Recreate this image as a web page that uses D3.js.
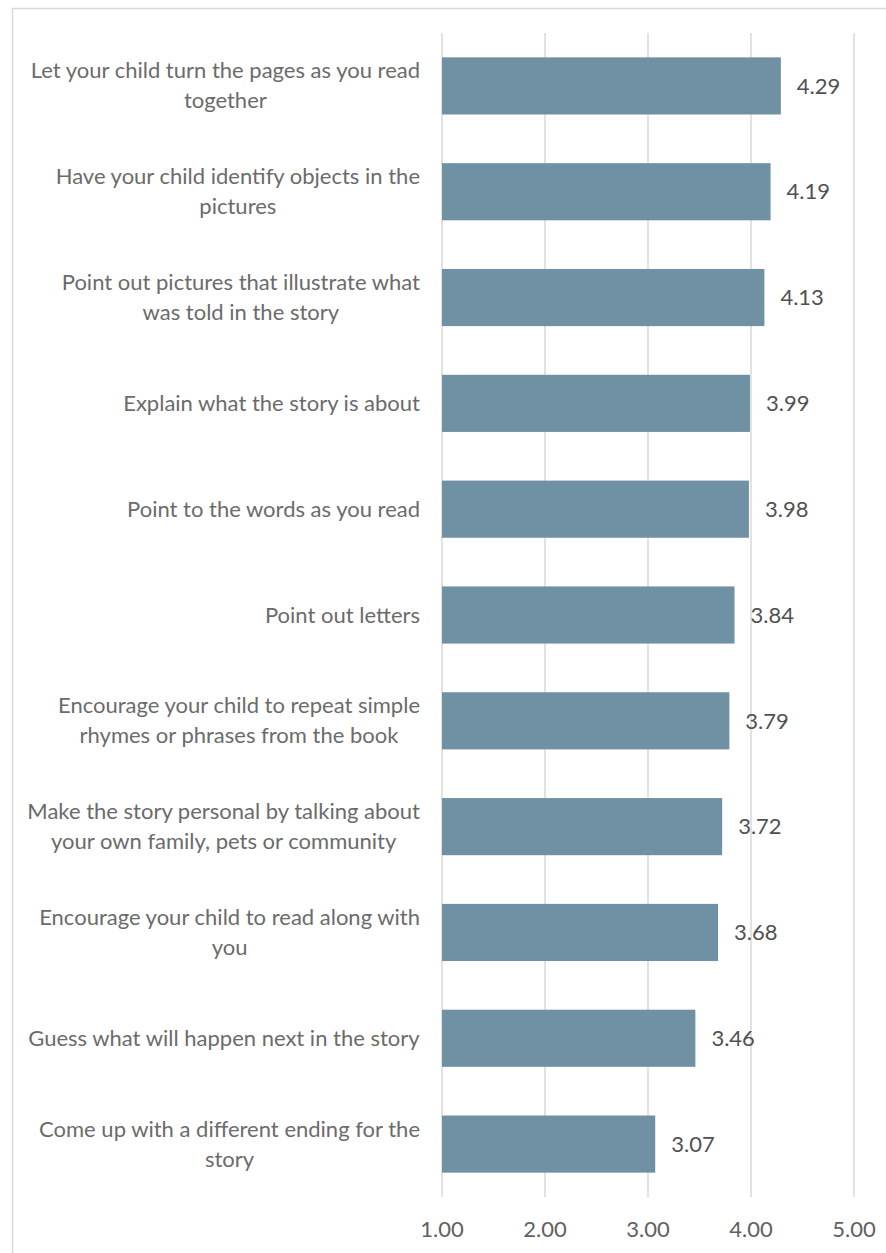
<!DOCTYPE html>
<html>
<head>
<meta charset="utf-8">
<script src="https://cdn.jsdelivr.net/npm/d3@7"></script>
<style>
  body { margin: 0; background: #fff; }
  text { font-family: Lato, "Open Sans", sans-serif; }
</style>
</head>
<body>
<svg id="chart" width="886" height="1253"></svg>
<script>
// categories (already split into the lines shown on the chart)
const categories = [
    ["Let your child turn the pages as you read", "together"],
    ["Have your child identify objects in the", "pictures"],
    ["Point out pictures that illustrate what", "was told in the story"],
    ["Explain what the story is about"],
    ["Point to the words as you read"],
    ["Point out letters"],
    ["Encourage your child to repeat simple", "rhymes or phrases from the book"],
    ["Make the story personal by talking about", "your own family, pets or community"],
    ["Encourage your child to read along with", "you"],
    ["Guess what will happen next in the story"],
    ["Come up with a different ending for the", "story"]
];
const values = [4.29, 4.19, 4.13, 3.99, 3.98, 3.84, 3.79, 3.72, 3.68, 3.46, 3.07];
const tickValues = [1, 2, 3, 4, 5];

const svg = d3.select('#chart');

// chart border
svg.append('rect')
    .attr('x', 12.5).attr('y', 8.5)
    .attr('width', 900).attr('height', 1300)
    .attr('fill', 'none')
    .attr('stroke', '#d9d9d9')
    .attr('stroke-width', 1.5);

const x = d3.scaleLinear().domain([1, 5]).range([442, 854]);
const y = d3.scaleBand()
    .domain(d3.range(categories.length))
    .range([33, 1197])
    .paddingInner(0.46)
    .paddingOuter(0.23);

// gridlines
svg.append('g')
    .selectAll('line')
    .data(tickValues)
    .enter()
    .append('line')
    .attr('x1', d => x(d)).attr('x2', d => x(d))
    .attr('y1', 33).attr('y2', 1197)
    .attr('stroke', '#d9d9d9')
    .attr('stroke-width', 1.5);

// bars
svg.append('g')
    .selectAll('rect')
    .data(values)
    .enter()
    .append('rect')
    .attr('x', x(1))
    .attr('y', (d, i) => y(i))
    .attr('width', d => x(d) - x(1))
    .attr('height', y.bandwidth())
    .attr('fill', '#7091a4');

// value labels
svg.append('g')
    .selectAll('text')
    .data(values)
    .enter()
    .append('text')
    .attr('x', d => x(d) + 16)
    .attr('y', (d, i) => y(i) + y.bandwidth() / 2)
    .attr('dy', '0.35em')
    .attr('font-size', 22)
    .attr('fill', '#505050')
    .text(d => d.toFixed(2));

// category labels
const catG = svg.append('g')
    .selectAll('text')
    .data(categories)
    .enter()
    .append('text')
    .attr('text-anchor', 'middle')
    .attr('font-size', 22)
    .attr('fill', '#6b6b6b')
    .attr('y', (d, i) => y(i) + y.bandwidth() / 2);

catG.each(function (lines) {
    const t = d3.select(this);
    const lh = 30;
    const start = -(lines.length - 1) * lh / 2;
    lines.forEach((ln, k) => {
        t.append('tspan')
            .attr('x', 0)
            .attr('dy', k === 0 ? start + 7.5 : lh)
            .text(ln);
    });
});

// right-align the label block, centre lines inside it
catG.each(function () {
    const t = d3.select(this);
    const w = this.getBBox().width;
    t.selectAll('tspan').attr('x', 420 - w / 2);
});

// x axis tick labels
svg.append('g')
    .selectAll('text')
    .data(tickValues)
    .enter()
    .append('text')
    .attr('x', d => x(d))
    .attr('y', 1237)
    .attr('text-anchor', 'middle')
    .attr('font-size', 22)
    .attr('fill', '#606060')
    .text(d => d.toFixed(2));
</script>
</body>
</html>
